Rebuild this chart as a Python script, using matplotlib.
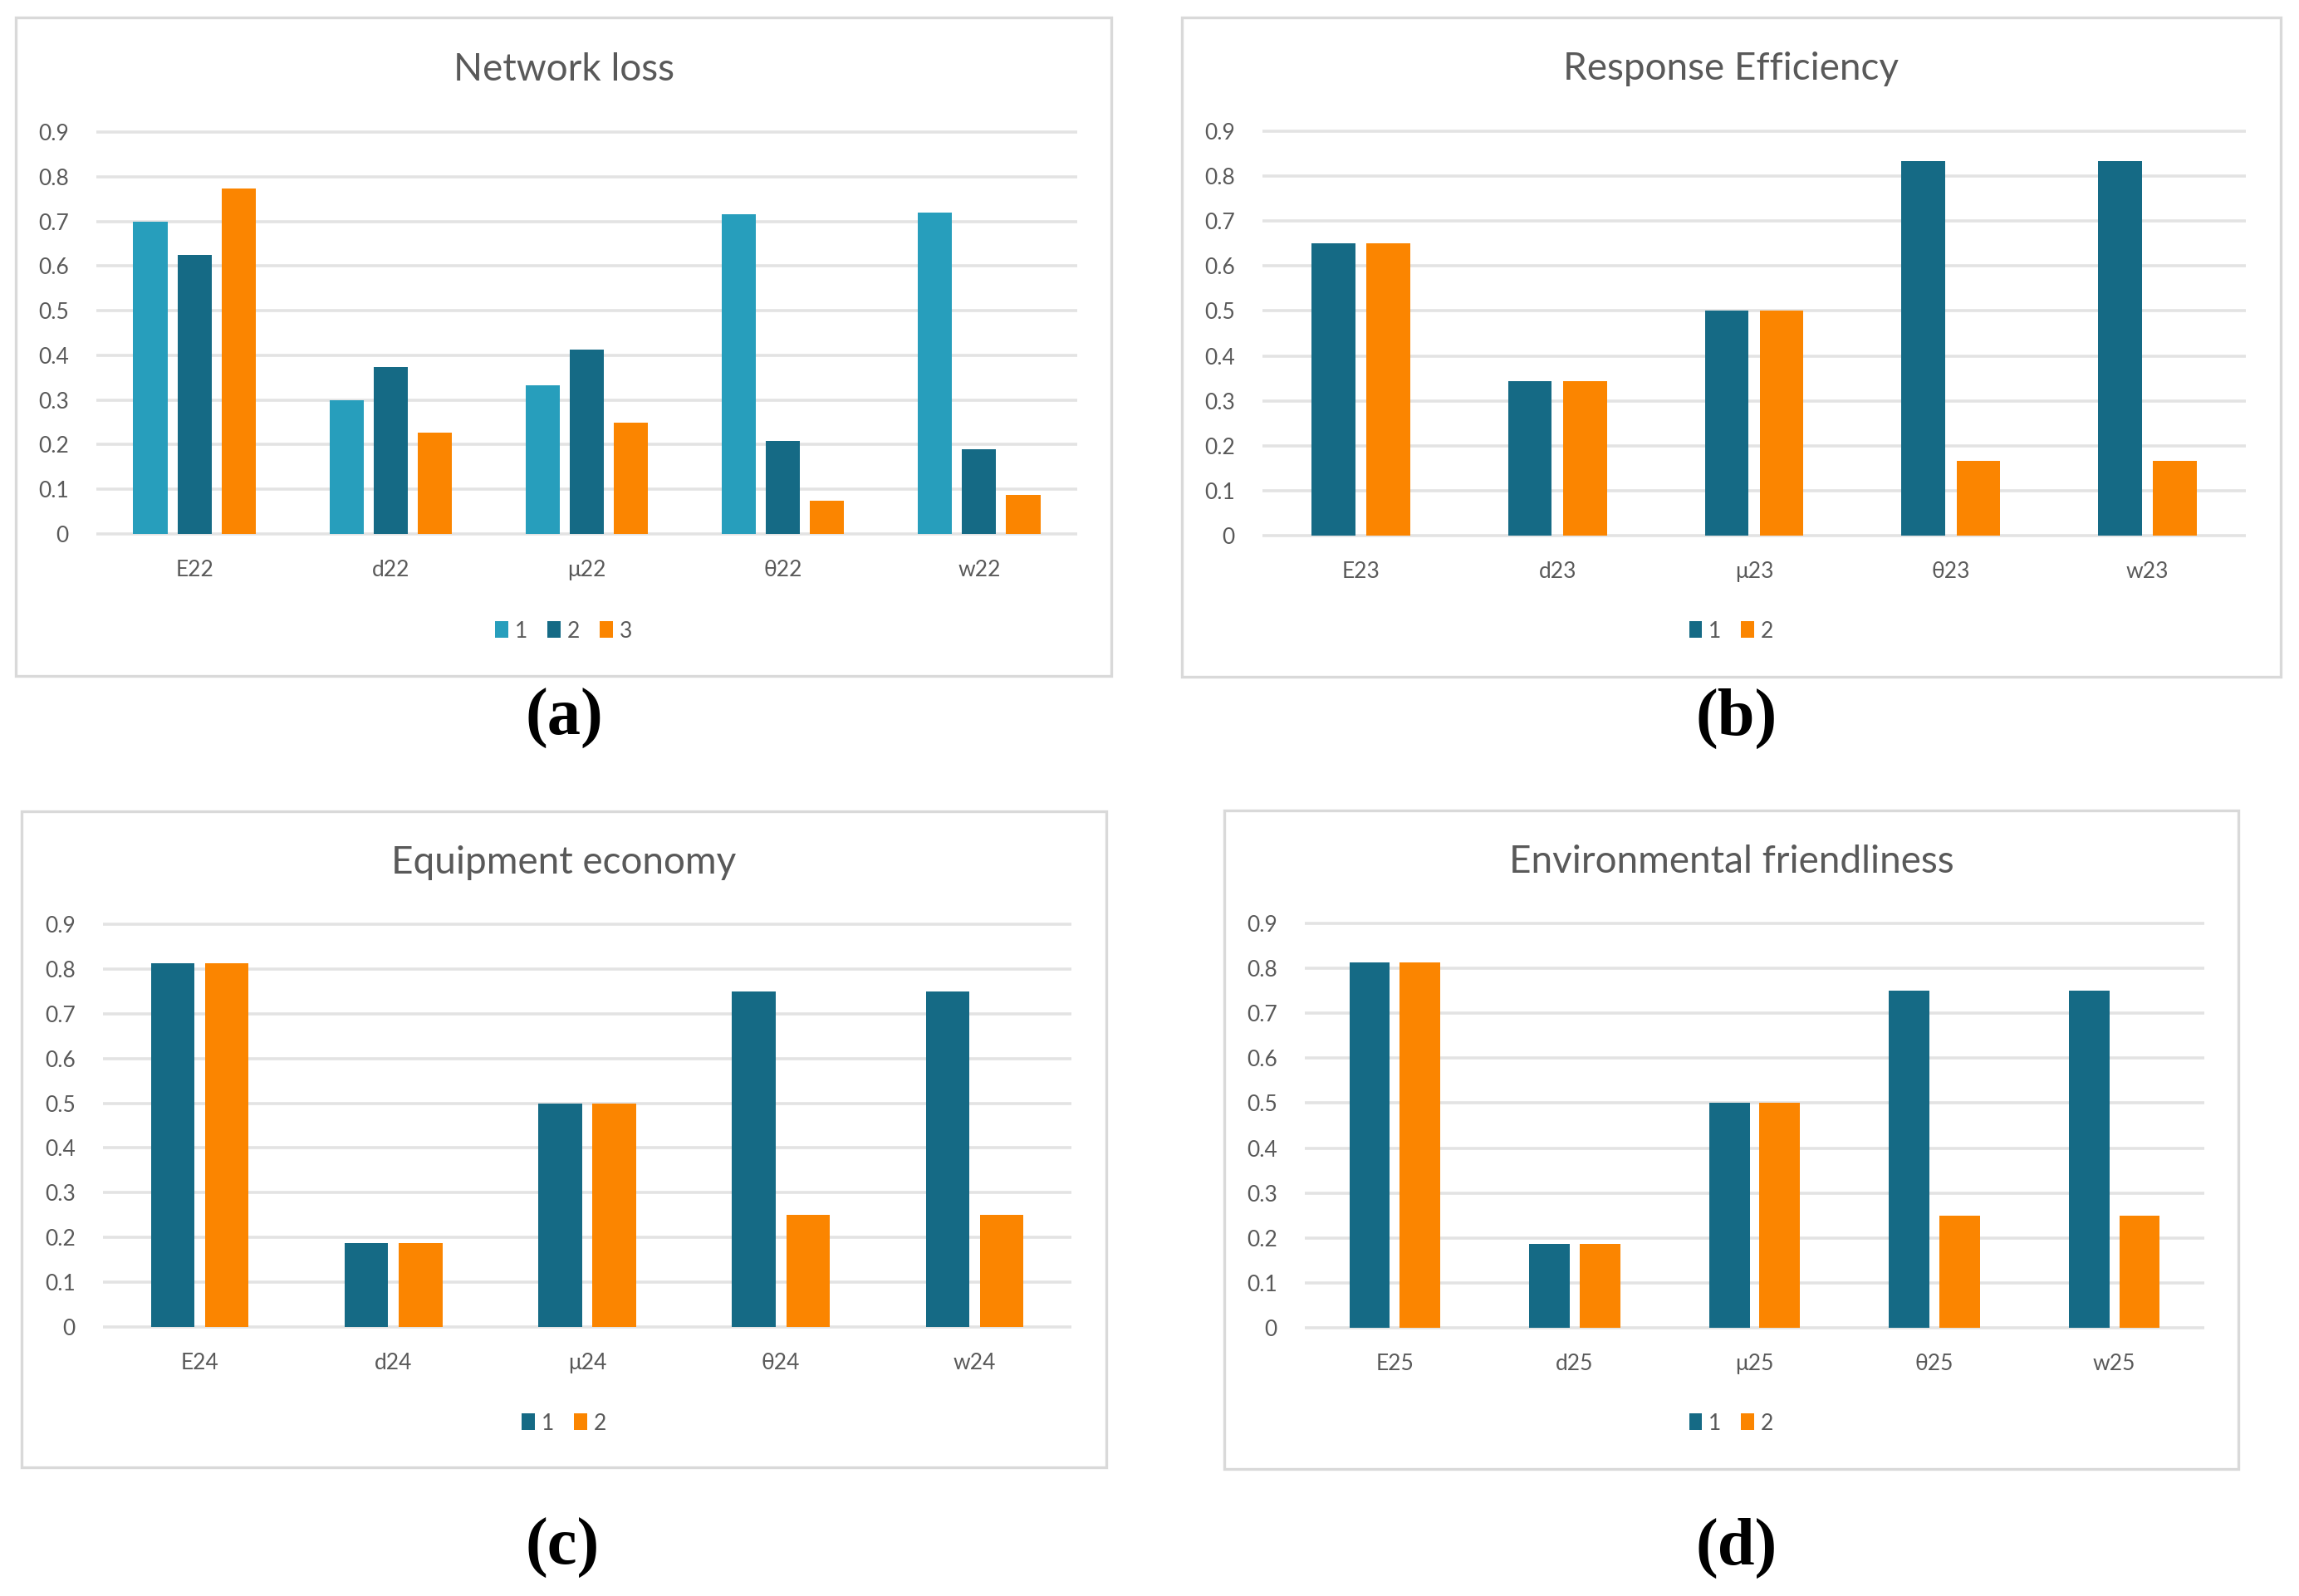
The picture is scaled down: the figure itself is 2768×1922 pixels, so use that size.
import matplotlib.pyplot as plt
from matplotlib.patches import Rectangle, Patch

# Dane
cats_a = ['E22', 'd22', 'μ22', 'θ22', 'w22']
cats_b = ['E23', 'd23', 'μ23', 'θ23', 'w23']
cats_c = ['E24', 'd24', 'μ24', 'θ24', 'w24']
cats_d = ['E25', 'd25', 'μ25', 'θ25', 'w25']

net_loss_1 = [0.70, 0.30, 0.333, 0.715, 0.72]
net_loss_2 = [0.625, 0.373, 0.413, 0.208, 0.19]
net_loss_3 = [0.773, 0.226, 0.25, 0.075, 0.087]

resp_1 = [0.65, 0.344, 0.5, 0.833, 0.833]
resp_2 = [0.65, 0.344, 0.5, 0.167, 0.167]

equip_1 = [0.8125, 0.1875, 0.5, 0.75, 0.75]
equip_2 = [0.8125, 0.1875, 0.5, 0.25, 0.25]

env_1 = [0.8125, 0.1875, 0.5, 0.75, 0.75]
env_2 = [0.8125, 0.1875, 0.5, 0.25, 0.25]

series_names_3 = ['1', '2', '3']
series_names_2 = ['1', '2']
yticks = [0, 0.1, 0.2, 0.3, 0.4, 0.5, 0.6, 0.7, 0.8, 0.9]

LIGHT = '#279EBC'
DARK = '#156A85'
ORANGE = '#FB8500'
GRAY = '#595959'
FONT = ['Lato', 'DejaVu Sans']

W, H = 2768, 1922
DPI = 200
fig = plt.figure(figsize=(W / DPI, H / DPI), dpi=DPI, facecolor='white')


def fx(x):
    return x / W


def fy(y):
    return 1 - y / H


def panel(box, gl, gr, y0, y9, title_y, legend_y, title, cats, series, names,
          colors, width, step, label, label_xy):
    bx0, by0, bx1, by1 = box
    # ramka wokół wykresu (bez wypełnienia, żeby nie zasłaniała osi)
    fig.patches.append(Rectangle((fx(bx0), fy(by1)), fx(bx1 - bx0), (by1 - by0) / H,
                                 transform=fig.transFigure, facecolor='none',
                                 edgecolor='#D9D9D9', linewidth=1.2, zorder=-1))
    # osie: 0..0.9 z małym zapasem, żeby linie siatki nie były ucięte
    ppu = (y0 - y9) / 0.9
    lo, hi = -0.006, 0.906
    top_px = y0 - hi * ppu
    bot_px = y0 - lo * ppu
    ax = fig.add_axes([fx(gl), fy(bot_px), fx(gr - gl), (bot_px - top_px) / H])
    ax.set_facecolor('none')
    n = len(series)
    for j, (vals, c, nm) in enumerate(zip(series, colors, names)):
        xs = [i + (j - (n - 1) / 2) * step for i in range(len(cats))]
        ax.bar(xs, vals, width=width, color=c, label=nm, zorder=3)
    ax.set_xlim(-0.5, len(cats) - 0.5)
    ax.set_ylim(lo, hi)
    ax.set_yticks(yticks)
    ax.set_yticklabels(['0' if v == 0 else f'{v:.1f}' for v in yticks])
    ax.set_xticks(range(len(cats)))
    ax.set_xticklabels(cats)
    for s in ax.spines.values():
        s.set_visible(False)
    ax.set_axisbelow(True)
    ax.yaxis.grid(True, color='#E3E3E3', linewidth=1.3)
    ax.tick_params(axis='both', length=0, colors=GRAY, labelsize=9.5)
    ax.tick_params(axis='y', pad=12)
    ax.tick_params(axis='x', pad=10)
    for t in ax.get_xticklabels() + ax.get_yticklabels():
        t.set_family(FONT)
    cx = (bx0 + bx1) / 2
    fig.text(fx(cx), fy(title_y), title, ha='center', va='center',
             fontsize=16.5, color=GRAY, family=FONT)
    handles = [Patch(facecolor=c, edgecolor='none') for c in colors]
    fig.legend(handles, names, loc='center', bbox_to_anchor=(fx(cx), fy(legend_y)),
               ncol=len(names), frameon=False, labelcolor=GRAY,
               handlelength=0.6, handleheight=0.8, handletextpad=0.3,
               columnspacing=0.9, prop={'family': FONT, 'size': 9.5})
    fig.text(fx(label_xy[0]), fy(label_xy[1]), label, ha='center', va='center',
             fontsize=29, family='Liberation Serif', weight='bold', color='black')
    return ax


panel((19, 21, 1338, 814), 116, 1297, 643, 159, 84, 760, 'Network loss', cats_a,
      [net_loss_1, net_loss_2, net_loss_3], series_names_3, [LIGHT, DARK, ORANGE],
      0.174, 0.225, '(a)', (679, 865))

panel((1423, 21, 2746, 815), 1520, 2704, 645, 158, 83, 760, 'Response Efficiency', cats_b,
      [resp_1, resp_2], series_names_2, [DARK, ORANGE],
      0.222, 0.28, '(b)', (2091, 865))

panel((26, 977, 1332, 1767), 124, 1290, 1598, 1113, 1039, 1714, 'Equipment economy', cats_c,
      [equip_1, equip_2], series_names_2, [DARK, ORANGE],
      0.225, 0.28, '(c)', (677, 1864))

panel((1474, 976, 2695, 1769), 1571, 2654, 1599, 1112, 1038, 1714, 'Environmental friendliness',
      cats_d, [env_1, env_2], series_names_2, [DARK, ORANGE],
      0.225, 0.28, '(d)', (2091, 1864))

plt.savefig('out.png', dpi=DPI, facecolor='white')
plt.close()
